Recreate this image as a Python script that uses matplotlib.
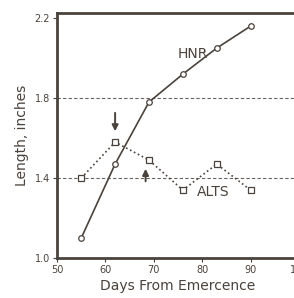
import numpy as np
import matplotlib.pyplot as plt

days = [55, 62, 69, 76, 83, 90]
hnr = [1.10, 1.47, 1.78, 1.92, 2.05, 2.16]
alts = [1.40, 1.58, 1.49, 1.34, 1.47, 1.34]
ref_lines = [1.4, 1.8]
xticks = [50, 60, 70, 80, 90, 100]
yticks = [1.0, 1.4, 1.8, 2.2]

ink = '#4a423c'

fig = plt.figure(figsize=(2.94, 2.98), dpi=100)
ax = fig.add_axes([0.194, 0.134, 0.823, 0.822])

for r in ref_lines:
    ax.axhline(r, color='#6a625c', lw=0.8, ls=(0, (3, 2)), zorder=1)

ax.plot(days, hnr, color=ink, lw=1.2, marker='o', ms=4, mfc='white', mec=ink, mew=0.9, zorder=3)
ax.plot(days, alts, color=ink, lw=1.2, ls=':', marker='s', ms=4, mfc='white', mec=ink, mew=0.9, zorder=3)

ax.text(75, 2.02, 'HNR', fontsize=10, color=ink, ha='left', va='center')
ax.text(79, 1.33, 'ALTS', fontsize=10, color=ink, ha='left', va='center')

# arrows marking the peaks
ax.annotate('', xy=(62, 1.62), xytext=(62, 1.74),
            arrowprops=dict(arrowstyle='-|>', color=ink, lw=1.4, mutation_scale=9))
ax.annotate('', xy=(68.3, 1.46), xytext=(68.3, 1.37),
            arrowprops=dict(arrowstyle='-|>', color=ink, lw=1.4, mutation_scale=9))

ax.set_xlim(50, 100)
ax.set_ylim(1.0, 2.225)
ax.set_xticks(xticks)
ax.set_yticks(yticks)
ax.set_xticklabels([str(t) for t in xticks], fontsize=7, color=ink)
ax.set_yticklabels(['%.1f' % t for t in yticks], fontsize=7, color=ink)
ax.tick_params(direction='out', length=3, width=0.8, color=ink, pad=2)

for s in ['left', 'bottom', 'top']:
    ax.spines[s].set_linewidth(2)
    ax.spines[s].set_color(ink)
ax.spines['right'].set_visible(False)

ax.set_xlabel('Days From Emercence', fontsize=10, color=ink, labelpad=3)
ax.set_ylabel('Length, inches', fontsize=10, color=ink, labelpad=4)

fig.savefig('out.png', dpi=100)
